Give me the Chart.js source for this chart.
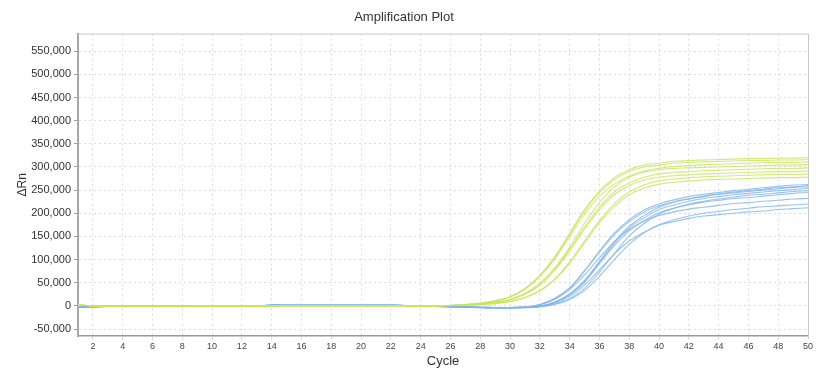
<!DOCTYPE html>
<html>
<head>
    <title>Amplification Plot</title>
    <script src="https://cdn.jsdelivr.net/npm/chart.js"></script>
    <style>
        body { margin: 0; background: #fff; }
        #wrap { width: 826px; height: 376px; }
    </style>
</head>
<body>
    <div id="wrap"><canvas id="amp" width="826" height="376"></canvas></div>
    <script>
        // cycle numbers and tick labels
        const cycles = [1,2,3,4,5,6,7,8,9,10,11,12,13,14,15,16,17,18,19,20,21,22,23,24,25,
                        26,27,28,29,30,31,32,33,34,35,36,37,38,39,40,41,42,43,44,45,46,47,48,49,50];
        const cycleTicks = [2,4,6,8,10,12,14,16,18,20,22,24,26,28,30,32,34,36,38,40,42,44,46,48,50];
        const rnTicks = [-50000,0,50000,100000,150000,200000,250000,300000,350000,400000,450000,500000,550000];

        // flat start, cycles 1-24
        const baseGreen = [2500,0,-1000,-1000,-1000,-1000,-1000,-1000,-500,0,0,0,0,0,500,500,500,500,500,500,500,500,500,-500];
        const baseBlue = [-3000,-1500,-1000,-1000,-1000,-1000,-1000,-1000,-1000,-500,-500,0,500,1500,1500,1500,1500,1500,1500,1500,1500,1500,1000,-500];

        // green wells, cycles 25-50
        const green1 = [0,1000,3000,6000,11000,20000,37000,66000,106000,157000,208000,248000,277000,294000,304000,308000,312000,314000,315000,316000,317000,318000,318000,319000,319000,320000];
        const green2 = [0,1000,3000,6000,11000,20000,37000,65000,105000,155000,205000,245000,273000,290000,300000,304000,308000,310000,311000,312000,313000,314000,314000,315000,315000,316000];
        const green3 = [0,1000,2000,4000,8000,14000,27000,49000,82000,127000,178000,223000,257000,278000,291000,297000,301000,303000,305000,306000,307000,308000,309000,310000,310000,311000];
        const green4 = [0,1000,3000,5000,10000,19000,36000,63000,101000,150000,198000,237000,263000,280000,289000,294000,297000,298000,299000,300000,301000,302000,303000,304000,304000,305000];
        const green5 = [0,1000,2000,4000,7000,14000,26000,46000,79000,122000,170000,213000,246000,266000,278000,285000,288000,290000,292000,293000,294000,295000,296000,297000,297000,298000];
        const green6 = [0,1000,2000,4000,7000,13000,25000,45000,77000,119000,166000,208000,240000,260000,272000,278000,281000,283000,285000,286000,287000,288000,289000,290000,290000,291000];
        const green7 = [0,1000,1000,3000,5000,10000,18000,33000,58000,95000,140000,184000,221000,246000,261000,270000,274000,277000,279000,280000,281000,282000,283000,284000,284000,285000];
        const green8 = [0,1000,1000,3000,5000,9000,18000,32000,57000,92000,136000,180000,215000,240000,254000,263000,267000,270000,272000,273000,274000,275000,276000,277000,277000,278000];

        // blue wells, cycles 25-50
        const blue1 = [-1000,-1500,-2500,-3500,-4000,-4000,-3000,3000,16000,39000,76000,118000,157000,186000,207000,220000,229000,236000,241000,245000,249000,252000,255000,258000,261000,262000];
        const blue2 = [-500,-1500,-2000,-3000,-3500,-4000,-3000,-1000,8000,26000,55000,96000,138000,172000,195000,213000,224000,231000,237000,242000,246000,249000,252000,255000,257000,260000];
        const blue3 = [-1000,-2000,-3000,-4000,-4500,-4500,-3500,3000,16000,39000,75000,116000,154000,182000,203000,216000,225000,231000,236000,241000,244000,247000,250000,253000,256000,257000];
        const blue4 = [-1000,-1500,-2500,-3000,-3500,-3500,-3000,-1000,8000,25000,53000,94000,135000,168000,190000,208000,218000,226000,232000,236000,240000,243000,246000,249000,251000,254000];
        const blue5 = [-1000,-2000,-3000,-4000,-4500,-4500,-4000,-2000,4000,16000,38000,73000,113000,151000,178000,198000,211000,220000,226000,231000,235000,239000,241000,244000,247000,249000];
        const blue6 = [-500,-1000,-2000,-3000,-3500,-3500,-2500,-1000,8000,24000,51000,91000,130000,162000,184000,201000,211000,218000,224000,228000,232000,234000,237000,240000,243000,245000];
        const blue7 = [-1000,-1500,-2500,-3500,-4000,-3500,-2500,2000,14000,35000,67000,104000,139000,165000,183000,195000,203000,209000,213000,217000,221000,223000,226000,228000,231000,232000];
        const blue8 = [-1000,-2000,-3000,-3500,-4000,-4500,-3500,-2000,3000,14000,33000,64000,100000,133000,158000,175000,186000,194000,200000,204000,208000,211000,214000,216000,218000,220000];
        const blue9 = [-500,-1500,-2500,-3000,-3500,-3500,-2500,-1000,6000,21000,45000,78000,112000,140000,159000,174000,182000,189000,194000,197000,200000,203000,205000,208000,210000,212000];

        const greenTails = [green1, green2, green3, green4, green5, green6, green7, green8];
        const blueTails = [blue1, blue2, blue3, blue4, blue5, blue6, blue7, blue8, blue9];

        const datasets = [];
        greenTails.forEach((t, i) => {
            datasets.push({
                label: 'green ' + (i + 1),
                data: baseGreen.concat(t),
                borderColor: 'rgba(198,230,88,0.8)',
                borderWidth: 1.1,
                pointRadius: 0,
                tension: 0.4,
                fill: false
            });
        });
        blueTails.forEach((t, i) => {
            datasets.push({
                label: 'blue ' + (i + 1),
                data: baseBlue.concat(t),
                borderColor: 'rgba(126,180,238,0.8)',
                borderWidth: 1.1,
                pointRadius: 0,
                tension: 0.4,
                fill: false
            });
        });

        // thin grey frame round the plot area
        const frame = {
            id: 'frame',
            afterDraw(chart) {
                const a = chart.chartArea;
                const ctx = chart.ctx;
                ctx.save();
                ctx.strokeStyle = '#c8c8c8';
                ctx.lineWidth = 1;
                ctx.beginPath();
                ctx.moveTo(a.left, a.top + 0.5);
                ctx.lineTo(a.right + 0.5, a.top + 0.5);
                ctx.lineTo(a.right + 0.5, a.bottom);
                ctx.stroke();
                ctx.restore();
            }
        };

        const fam = '"Liberation Sans", Arial, sans-serif';

        new Chart(document.getElementById('amp'), {
            type: 'line',
            data: { labels: cycles, datasets: datasets },
            plugins: [frame],
            options: {
                responsive: false,
                animation: false,
                layout: { padding: { right: 18 } },
                plugins: {
                    legend: { display: false },
                    tooltip: { enabled: false },
                    title: {
                        display: true,
                        text: 'Amplification Plot',
                        color: '#333',
                        font: { family: fam, size: 13, weight: 'normal' },
                        padding: { top: 10, bottom: 8 }
                    }
                },
                scales: {
                    x: {
                        type: 'linear',
                        min: 1,
                        max: 50,
                        afterBuildTicks: s => { s.ticks = cycleTicks.map(v => ({ value: v })); },
                        afterFit: s => { s.height = 40; },
                        grid: {
                            color: '#dcdcdc',
                            tickColor: '#dcdcdc',
                            tickLength: 4
                        },
                        border: { display: true, color: '#9a9a9a', width: 1.5, dash: [2, 3] },
                        ticks: {
                            color: '#444',
                            font: { family: fam, size: 9 },
                            padding: 1,
                            maxRotation: 0,
                            autoSkip: false
                        },
                        title: {
                            display: true,
                            text: 'Cycle',
                            color: '#333',
                            font: { family: fam, size: 13 },
                            padding: { top: 0, bottom: 7 }
                        }
                    },
                    y: {
                        min: -65000,
                        max: 588000,
                        afterBuildTicks: s => { s.ticks = rnTicks.map(v => ({ value: v })); },
                        afterFit: s => { s.width = 78; },
                        grid: {
                            color: '#dcdcdc',
                            tickColor: '#9a9a9a',
                            tickLength: 4
                        },
                        border: { display: true, color: '#a8a8a8', width: 2, dash: [2, 3] },
                        ticks: {
                            color: '#333',
                            font: { family: fam, size: 11 },
                            padding: 3,
                            callback: v => v.toLocaleString('en-US')
                        },
                        title: {
                            display: true,
                            text: 'ΔRn',
                            color: '#333',
                            font: { family: fam, size: 12 },
                            padding: { top: 15, bottom: 0 }
                        }
                    }
                }
            }
        });
    </script>
</body>
</html>
